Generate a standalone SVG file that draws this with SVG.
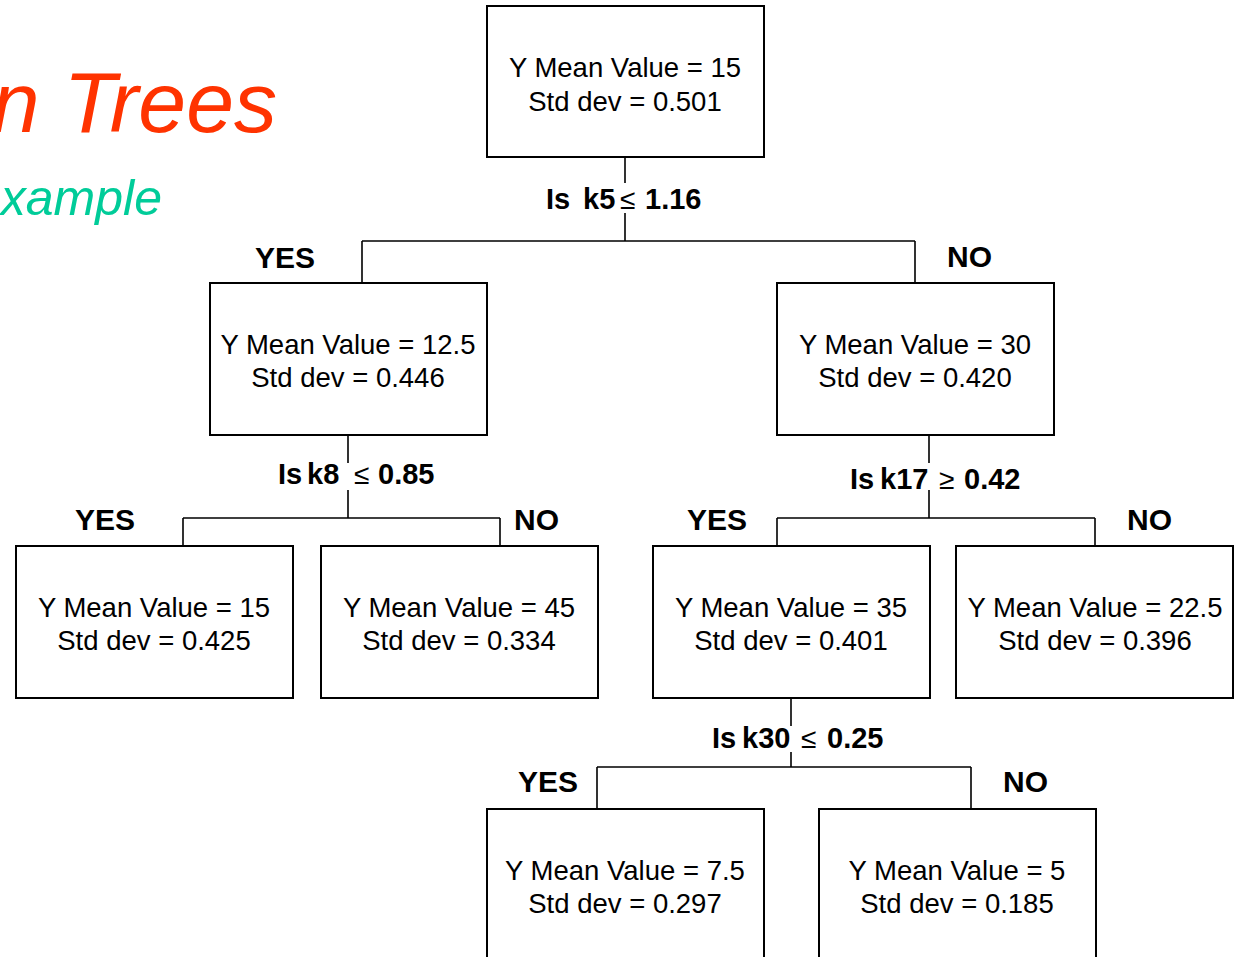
<svg xmlns="http://www.w3.org/2000/svg" width="1237" height="957" viewBox="0 0 1237 957">
<style>
.box{fill:#fff;stroke:#000;stroke-width:2}
.nt{font-family:"Liberation Sans",Arial,sans-serif;font-size:27.5px;fill:#000;text-anchor:middle}
.lab{font-family:"Liberation Sans",Arial,sans-serif;font-size:29px;font-weight:bold;fill:#000}
.yn{font-family:"Liberation Sans",Arial,sans-serif;font-size:30px;font-weight:bold;fill:#000}
.sym{font-weight:normal;font-size:28px}
.ln{fill:none;stroke:#000;stroke-width:1.6}
</style>
<rect width="1237" height="957" fill="#fff"/>
<text x="277" y="132" font-family="Liberation Sans,Arial,sans-serif" font-style="italic" font-size="86" fill="#ff3300" text-anchor="end">n Trees</text>
<text x="162" y="215" font-family="Liberation Sans,Arial,sans-serif" font-style="italic" font-size="50" fill="#00cc99" text-anchor="end">xample</text>
<g id="connectors" class="ln">
<path d="M625,157V183M625,213V241M362,241H915M362,241V283M915,241V283"/>
<path d="M348,435V463M348,490V518M183,518H500M183,518V546M500,518V546"/>
<path d="M929,435V463M929,490V518M777,518H1095M777,518V546M1095,518V546"/>
<path d="M791,698V726M791,752V767M597,767H971M597,767V809M971,767V809"/>
</g>
<g id="labels">
<text class="lab" y="209"><tspan x="546">Is</tspan><tspan x="583">k5</tspan><tspan class="sym" x="620">≤</tspan><tspan x="645">1.16</tspan></text>
<text class="lab" y="484"><tspan x="278">Is</tspan><tspan x="307">k8</tspan><tspan class="sym" x="354">≤</tspan><tspan x="378">0.85</tspan></text>
<text class="lab" y="489"><tspan x="850">Is</tspan><tspan x="880">k17</tspan><tspan class="sym" x="939">≥</tspan><tspan x="964">0.42</tspan></text>
<text class="lab" y="748"><tspan x="712">Is</tspan><tspan x="742">k30</tspan><tspan class="sym" x="801">≤</tspan><tspan x="827">0.25</tspan></text>
<text class="yn" x="255" y="268">YES</text>
<text class="yn" x="947" y="267">NO</text>
<text class="yn" x="75" y="530">YES</text>
<text class="yn" x="514" y="530">NO</text>
<text class="yn" x="687" y="530">YES</text>
<text class="yn" x="1127" y="530">NO</text>
<text class="yn" x="518" y="792">YES</text>
<text class="yn" x="1003" y="792">NO</text>
</g>
<g id="n-root"><rect class="box" x="487" y="6" width="277" height="151"/><text class="nt" x="625" y="77">Y Mean Value = 15</text><text class="nt" x="625" y="111">Std dev = 0.501</text></g>
<g id="n-yes"><rect class="box" x="210" y="283" width="277" height="152"/><text class="nt" x="348" y="354">Y Mean Value = 12.5</text><text class="nt" x="348" y="387">Std dev = 0.446</text></g>
<g id="n-no"><rect class="box" x="777" y="283" width="277" height="152"/><text class="nt" x="915" y="354">Y Mean Value = 30</text><text class="nt" x="915" y="387">Std dev = 0.420</text></g>
<g id="n-yes-yes"><rect class="box" x="16" y="546" width="277" height="152"/><text class="nt" x="154" y="617">Y Mean Value = 15</text><text class="nt" x="154" y="650">Std dev = 0.425</text></g>
<g id="n-yes-no"><rect class="box" x="321" y="546" width="277" height="152"/><text class="nt" x="459" y="617">Y Mean Value = 45</text><text class="nt" x="459" y="650">Std dev = 0.334</text></g>
<g id="n-no-yes"><rect class="box" x="653" y="546" width="277" height="152"/><text class="nt" x="791" y="617">Y Mean Value = 35</text><text class="nt" x="791" y="650">Std dev = 0.401</text></g>
<g id="n-no-no"><rect class="box" x="956" y="546" width="277" height="152"/><text class="nt" x="1095" y="617">Y Mean Value = 22.5</text><text class="nt" x="1095" y="650">Std dev = 0.396</text></g>
<g id="n-no-yes-yes"><rect class="box" x="487" y="809" width="277" height="160"/><text class="nt" x="625" y="880">Y Mean Value = 7.5</text><text class="nt" x="625" y="913">Std dev = 0.297</text></g>
<g id="n-no-yes-no"><rect class="box" x="819" y="809" width="277" height="160"/><text class="nt" x="957" y="880">Y Mean Value = 5</text><text class="nt" x="957" y="913">Std dev = 0.185</text></g>
</svg>
